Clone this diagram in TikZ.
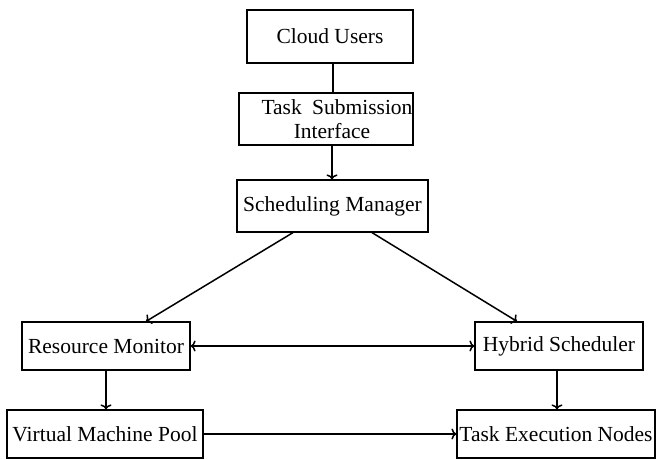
\documentclass[tikz,border=0pt]{standalone}
\usepackage{fontspec}
\setmainfont{Liberation Serif}
\usetikzlibrary{arrows.meta}

\tikzset{
    block/.style={draw, line width=1.2pt, align=center, inner sep=2pt,
        font=\fontsize{21.5}{24}\selectfont},
    heavyblock/.style={block, line width=2.6pt},
    link/.style={line width=1.5pt},
    arrow/.style={link, -{To[length=5pt,width=11pt]}}
}

\begin{document}
\begin{tikzpicture}[x=1pt,y=-1pt]
\useasboundingbox (0,0) rectangle (657,460);

% top of the chain
\node[heavyblock, minimum width=166pt, minimum height=53pt] (users) at (330,36.5) {Cloud Users};
\node[heavyblock, inner xsep=0pt, minimum width=174pt, minimum height=52pt] (submit) at (326,119)
    {\hspace*{22pt}\makebox[151pt][s]{Task Submission}\\\hspace*{12pt}Interface};
\node[block, minimum width=191pt, minimum height=52pt] (manager) at (332.5,206) {Scheduling Manager};

% middle row
\node[block, minimum width=168pt, minimum height=48pt] (monitor) at (106,346) {Resource Monitor};
\node[block, minimum width=168pt, minimum height=48pt] (hybrid) at (559,346) {Hybrid Scheduler};

% bottom row
\node[block, minimum width=196pt, minimum height=48pt] (pool) at (105,434) {Virtual Machine Pool};
\node[block, minimum width=198pt, minimum height=48pt] (exec) at (556,434) {Task Execution Nodes};

\draw[link, line width=2.6pt] ([xshift=3pt]users.south) -- ([xshift=3pt]users.south |- submit.north);
\draw[arrow] ([xshift=6pt]submit.south) -- ([xshift=6pt]submit.south |- manager.north);
\draw[arrow] ([xshift=-39.5pt]manager.south) -- ([xshift=40pt]monitor.north);
\draw[arrow] ([xshift=39.5pt]manager.south) -- ([xshift=-42pt]hybrid.north);
\draw[arrow, {To[length=5pt,width=11pt]}-{To[length=5pt,width=11pt]}] (monitor.east) -- (hybrid.west);
\draw[arrow] (monitor.south) -- (monitor.south |- pool.north);
\draw[arrow] ([xshift=-2pt]hybrid.south) -- ([xshift=-2pt]hybrid.south |- exec.north);
\draw[arrow] (pool.east) -- (exec.west);
\end{tikzpicture}
\end{document}
